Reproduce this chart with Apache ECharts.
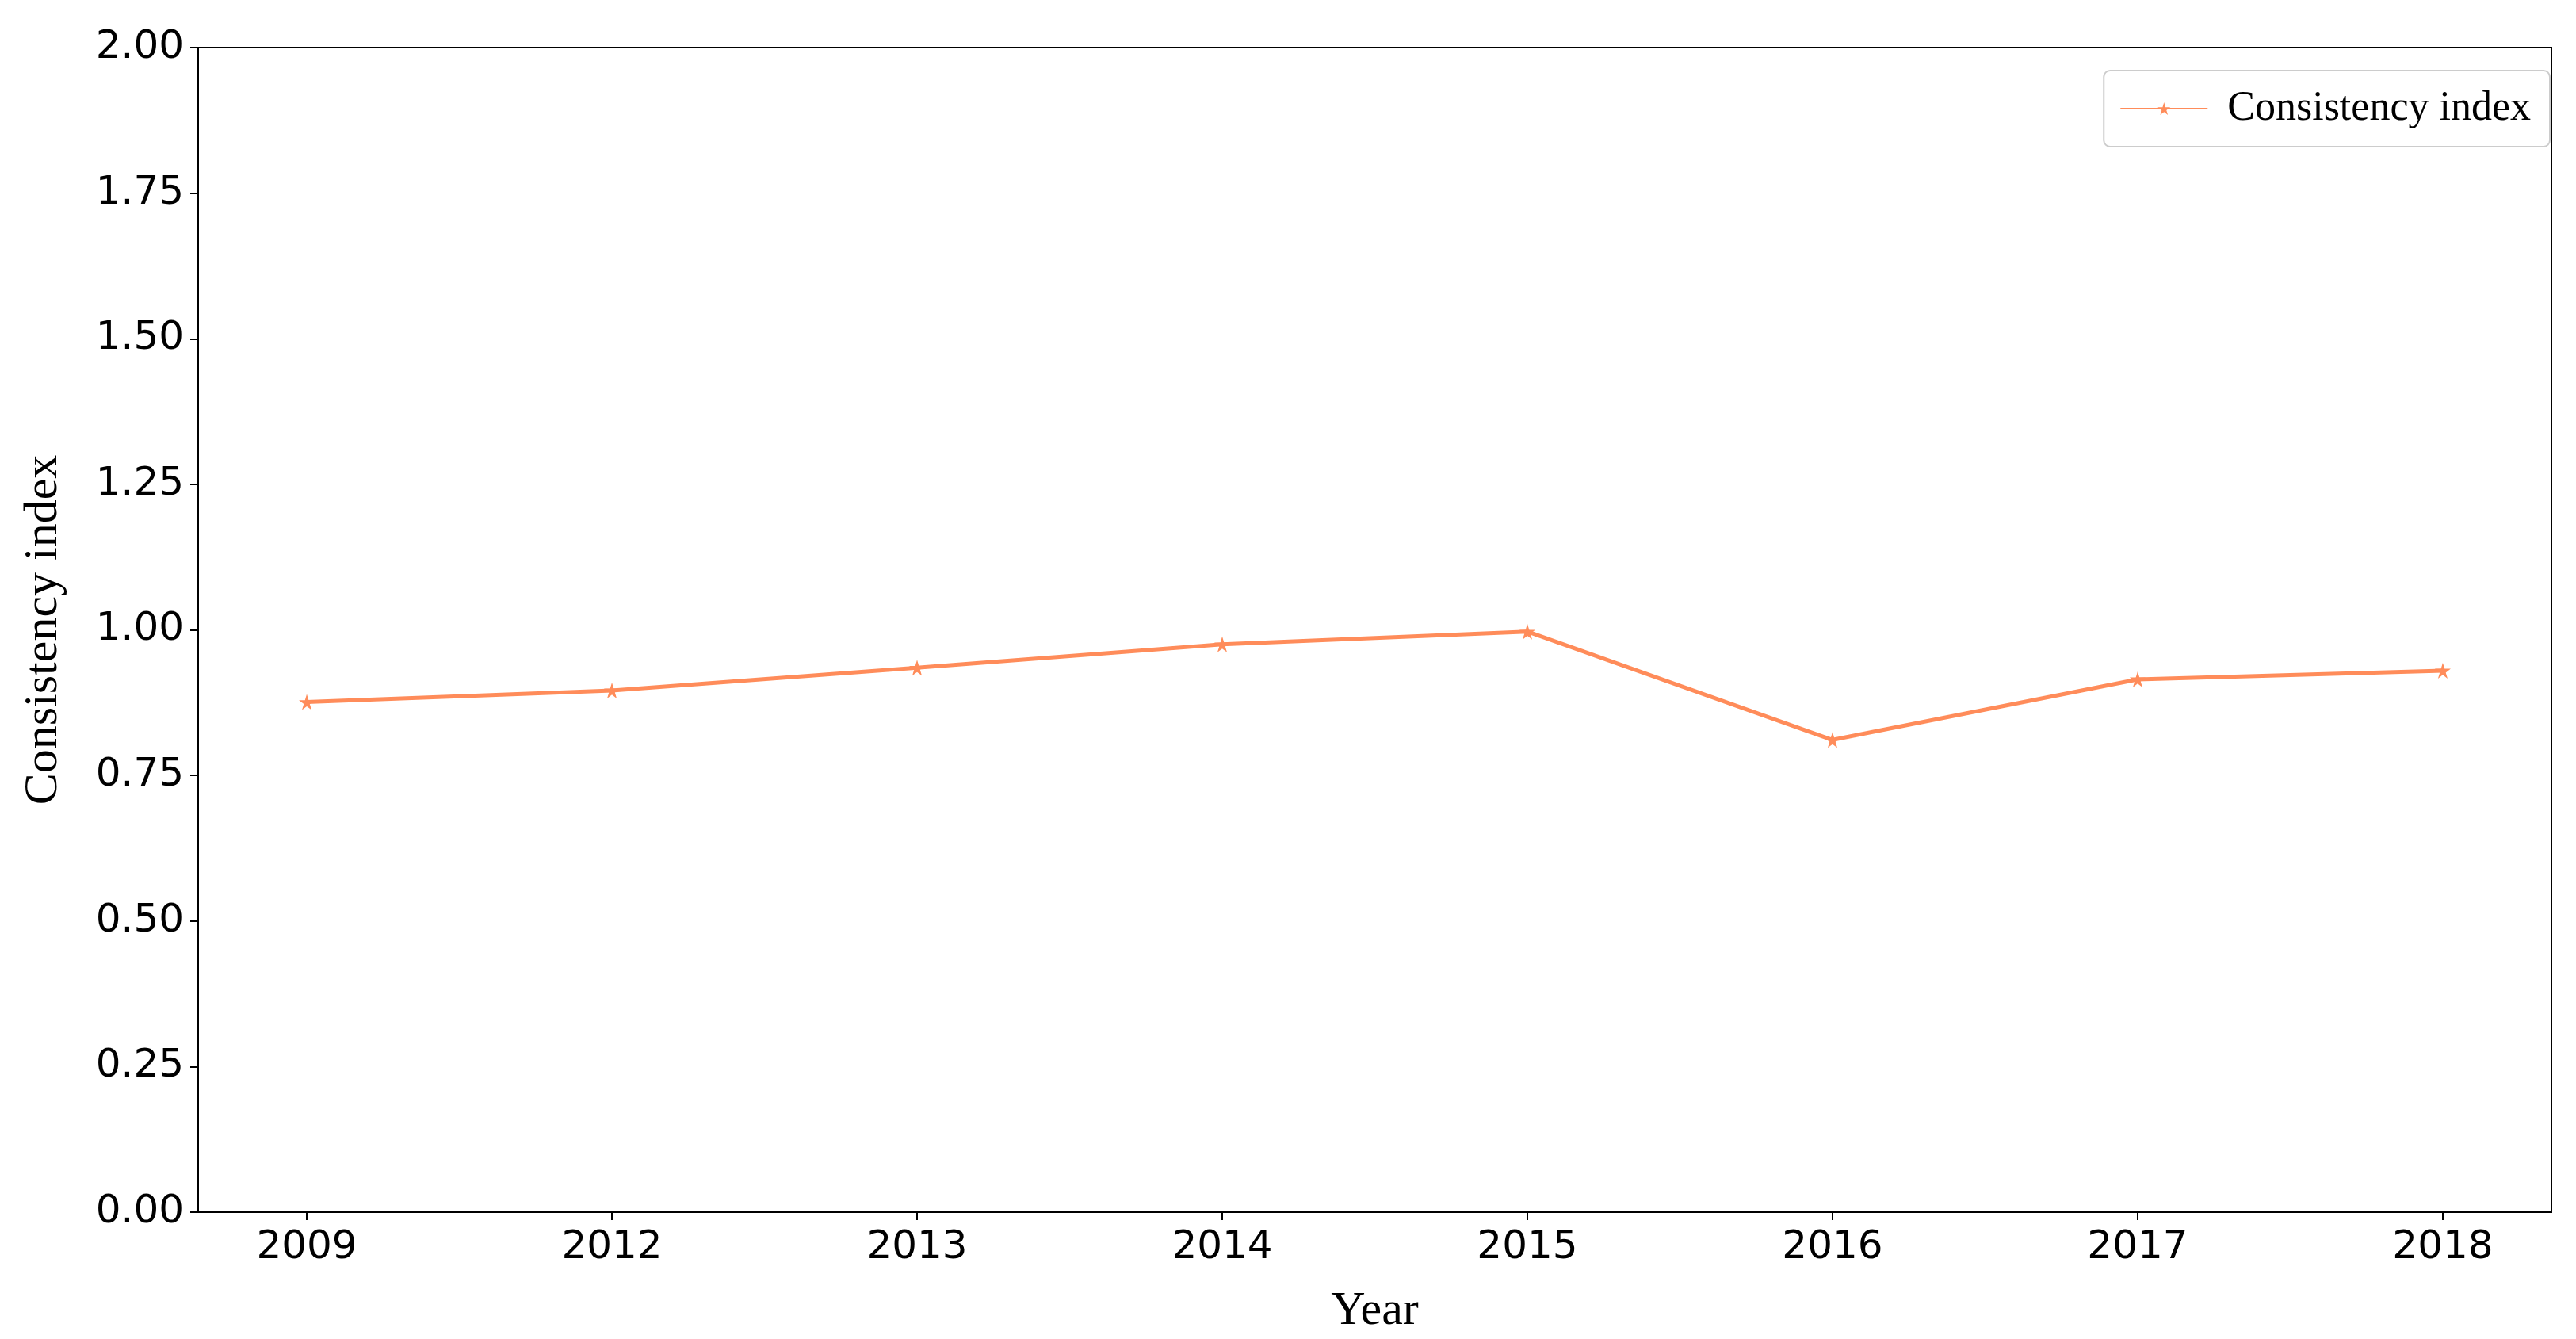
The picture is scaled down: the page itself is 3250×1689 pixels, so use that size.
<!DOCTYPE html>
<html><head><meta charset="utf-8">
<script src="https://cdn.jsdelivr.net/npm/echarts@6/dist/echarts.min.js"></script>
<style>html,body{margin:0;padding:0;background:#fff}#c{width:3250px;height:1689px}</style>
</head><body><div id="c"></div>
<script>
const years = ['2009','2012','2013','2014','2015','2016','2017','2018'];
const consistency = [0.876, 0.896, 0.935, 0.975, 0.997, 0.811, 0.915, 0.930];
const idx = years.map((_, i) => i);
const chart = echarts.init(document.getElementById('c'));
chart.setOption({
  animation: false,
  grid: {left: 250, right: 31, top: 60, bottom: 152, show: true, borderColor: '#000', borderWidth: 2, backgroundColor: 'transparent'},
  legend: {
    right: 33, top: 89, itemWidth: 110, itemHeight: 20, itemGap: 10, padding: [22, 24, 22, 20],
    borderColor: '#ccc', borderWidth: 2, borderRadius: 8,
    textStyle: {fontFamily: 'Liberation Serif', fontSize: 52, color: '#000', padding: [0, 0, 0, 20]},
    data: ['Consistency index']
  },
  xAxis: {
    type: 'value', min: -0.356, max: 7.356,
    name: 'Year', nameLocation: 'middle', nameGap: 95,
    nameTextStyle: {fontFamily: 'Liberation Serif', fontSize: 60, color: '#000'},
    axisLine: {show: true, onZero: false, lineStyle: {color: '#000', width: 2}},
    axisTick: {show: true, customValues: idx, length: 10, lineStyle: {color: '#000', width: 2}},
    axisLabel: {customValues: idx, formatter: v => years[Math.round(v)] || '', fontFamily: 'DejaVu Sans', fontSize: 50, color: '#000', margin: 20},
    splitLine: {show: false}
  },
  yAxis: {
    type: 'value', min: 0, max: 2, interval: 0.25,
    name: 'Consistency index', nameLocation: 'middle', nameGap: 165,
    nameTextStyle: {fontFamily: 'Liberation Serif', fontSize: 60, color: '#000'},
    axisLine: {show: true, onZero: false, lineStyle: {color: '#000', width: 2}},
    axisTick: {show: true, length: 10, lineStyle: {color: '#000', width: 2}},
    axisLabel: {formatter: v => v.toFixed(2), fontFamily: 'DejaVu Sans', fontSize: 50, color: '#000', margin: 18},
    splitLine: {show: false}
  },
  series: [{
    name: 'Consistency index', type: 'line',
    data: consistency.map((v, i) => [idx[i], v]),
    symbol: 'path://M50,0 L61,35 L98,35 L68,57 L79,91 L50,70 L21,91 L32,57 L2,35 L39,35 Z',
    symbolSize: 20,
    lineStyle: {color: '#FF8C5A', width: 5},
    itemStyle: {color: '#FF8C5A'}
  }]
});
</script>
</body></html>
